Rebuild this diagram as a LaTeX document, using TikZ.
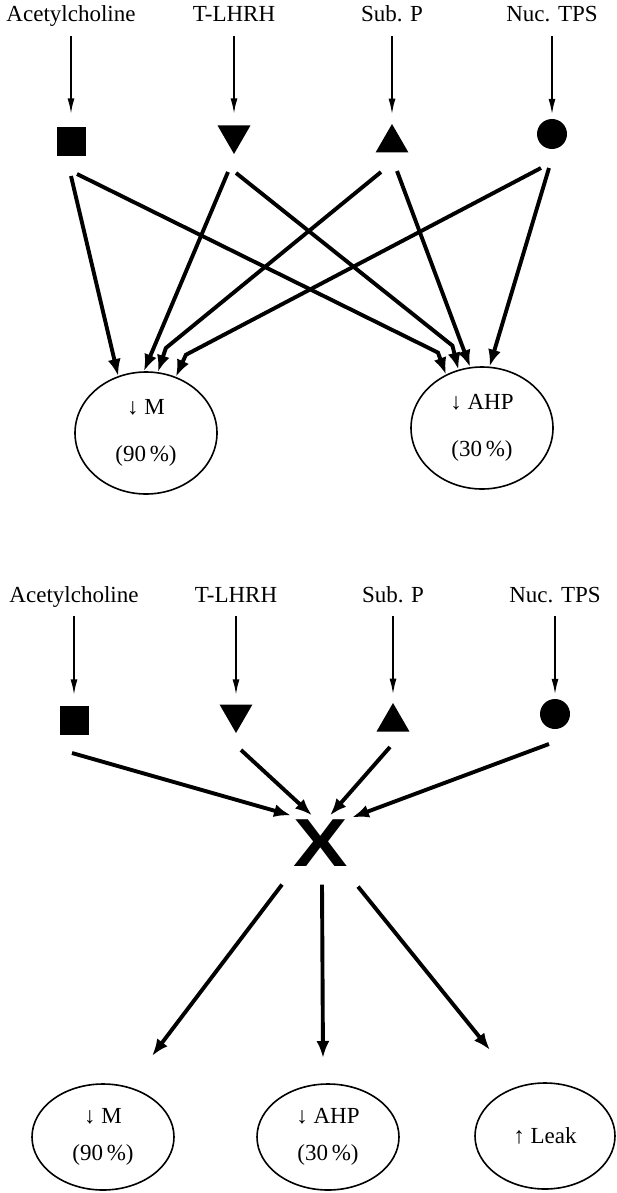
\documentclass[tikz,border=0pt]{standalone}
\usepackage{fontspec}
\setmainfont{Liberation Serif}
\newfontfamily\xfont{Liberation Sans}
\usetikzlibrary{shapes.geometric,arrows.meta,calc}
\tikzset{>={Latex[length=17pt,width=13pt]}}

\begin{document}
\begin{tikzpicture}[x=1pt, y=-1pt, font=\fontsize{23}{27}\selectfont,
    lbl/.style={inner sep=0pt, text height=17pt, text depth=5pt},
    sym/.style={fill, draw=none, inner sep=0pt},
    sq/.style={sym, rectangle, minimum size=29pt},
    dtri/.style={sym, regular polygon, regular polygon sides=3, shape border rotate=180, minimum size=38pt},
    utri/.style={sym, regular polygon, regular polygon sides=3, minimum size=38pt},
    disc/.style={sym, circle, minimum size=30pt},
    eff/.style={draw, ellipse, line width=1.6pt, inner sep=0pt, align=center, minimum width=142pt},
    feed/.style={-{Latex[length=16pt,width=7pt]}, line width=2pt},
    heavy/.style={->, line width=3.9pt}]
        \useasboundingbox (0,0) rectangle (617,1193);

        % upper scheme
        \node[lbl] (ach1) at (71,16) {Acetylcholine};
        \node[lbl] (lhrh1) at (234,16) {T-LHRH};
        \node[lbl] (subp1) at (392,16) {Sub. P};
        \node[lbl] (tps1) at (552,16) {Nuc. TPS};

        \node[sq] (sq1) at (71,142) {};
        \node[dtri] (dtri1) at (234,135) {};
        \node[utri] (utri1) at (392,143) {};
        \node[disc] (disc1) at (552,134) {};

        \node[eff, minimum height=122pt] (m1) at (146,433) {↓ M\\[20pt](90\,\%)};
        \node[eff, minimum height=122pt] (ahp1) at (482,428) {↓ AHP\\[20pt](30\,\%)};

        \path[feed]
        (ach1) edge[shorten <=9pt, shorten >=13pt] (sq1)
        (lhrh1) edge[shorten <=9pt, shorten >=11pt] (dtri1)
        (subp1) edge[shorten <=9pt, shorten >=9pt] (utri1)
        (tps1) edge[shorten <=9pt, shorten >=4pt] (disc1);

        \path[heavy]
        ([shift={(0,34)}]sq1.center) edge (m1.116)
        ([shift={(-6,37)}]dtri1.center) edge (m1.92)
        ([shift={(5,28)}]utri1.center) edge (ahp1.101)
        ([shift={(-3,34)}]disc1.center) edge (ahp1.83);
        \draw[heavy] ([shift={(6,32)}]sq1.center) -- ($(ahp1.124)+(-8,-22)$) -- (ahp1.124);
        \draw[heavy] ([shift={(2,38)}]dtri1.center) -- ($(ahp1.112)+(-6,-24)$) -- (ahp1.112);
        \draw[heavy] ([shift={(-11,29)}]utri1.center) -- ($(m1.79)+(8,-24)$) -- (m1.79);
        \draw[heavy] ([shift={(-11,34)}]disc1.center) -- ($(m1.62)+(10,-22)$) -- (m1.62);

        % lower scheme
        \node[lbl] (ach2) at (74,596) {Acetylcholine};
        \node[lbl] (lhrh2) at (236,596) {T-LHRH};
        \node[lbl] (subp2) at (393,596) {Sub. P};
        \node[lbl] (tps2) at (555,596) {Nuc. TPS};

        \node[sq] (sq2) at (74,720) {};
        \node[dtri] (dtri2) at (236,714) {};
        \node[utri] (utri2) at (393,722) {};
        \node[disc] (disc2) at (555,714) {};

        \node[inner sep=0pt, font=\xfont\bfseries\fontsize{68}{68}\selectfont] (x2) at (321,843) {\scalebox{1.2}[1]{X}};

        \node[eff, minimum height=106pt] (m2) at (103,1137) {↓ M\\[10pt](90\,\%)};
        \node[eff, minimum height=106pt] (ahp2) at (328,1137) {↓ AHP\\[10pt](30\,\%)};
        \node[eff, minimum height=106pt, minimum width=140pt] (leak2) at (545,1136) {↑ Leak};

        \path[feed]
        (ach2) edge[shorten <=9pt, shorten >=10pt] (sq2)
        (lhrh2) edge[shorten <=9pt, shorten >=9pt] (dtri2)
        (subp2) edge[shorten <=9pt, shorten >=8pt] (utri2)
        (tps2) edge[shorten <=9pt, shorten >=4pt] (disc2);

        \path[heavy]
        ([shift={(-2,33)}]sq2.center) edge ([shift={(-30,-4)}]x2.north)
        ([shift={(5,36)}]dtri2.center) edge ([shift={(-9,-4)}]x2.north)
        ([shift={(-3,25)}]utri2.center) edge ([shift={(9,-4)}]x2.north)
        ([shift={(-6,30)}]disc2.center) edge ([shift={(31,-2)}]x2.north)
        ([shift={(-39,18)}]x2.south) edge ([shift={(49,-81)}]m2.center)
        ([shift={(1,18)}]x2.south) edge ([shift={(-5,-79)}]ahp2.center)
        ([shift={(37,20)}]x2.south) edge ([shift={(-55,-86)}]leak2.center);
\end{tikzpicture}
\end{document}
